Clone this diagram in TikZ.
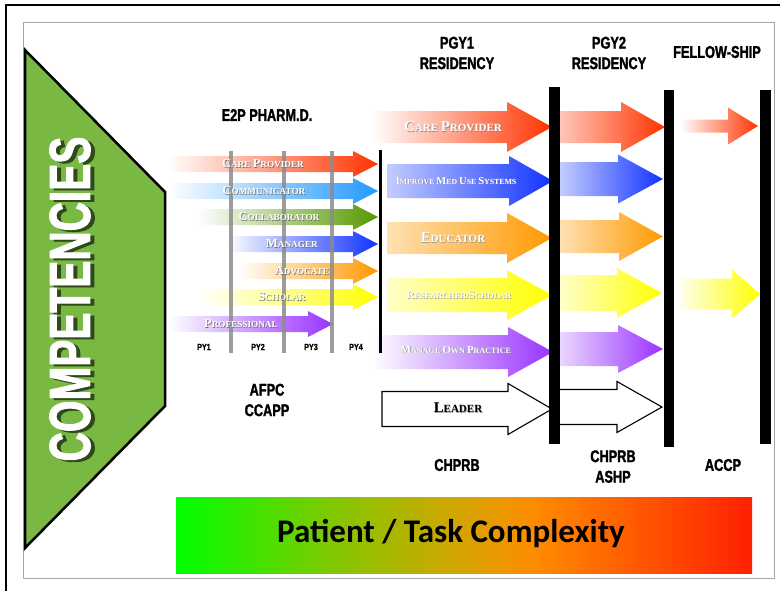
\documentclass[tikz,border=0pt]{standalone}
\usepackage{fontspec}
\usepackage{graphicx}
\newfontfamily\hdrfont[FakeStretch=0.75,FakeBold=1.6]{Liberation Sans Bold}
\newfontfamily\pyfont[FakeStretch=0.8,FakeBold=0.8]{Liberation Sans Bold}
\newfontfamily\compfont[FakeStretch=0.7,FakeBold=1.5]{Liberation Sans Bold}
\newfontfamily\labfont{Liberation Serif Bold}
\newfontfamily\barfont{Carlito Bold}
\definecolor{cgreen}{HTML}{78B843}
\definecolor{cshadow}{HTML}{2F4A1A}
\definecolor{cred}{HTML}{FF3300}
\definecolor{ccomm}{HTML}{2299FF}
\definecolor{ccoll}{HTML}{559900}
\definecolor{cblue}{HTML}{1133FF}
\definecolor{corange}{HTML}{FF9900}
\definecolor{cyellow}{HTML}{FFFF00}
\definecolor{cpurple}{HTML}{9933FF}
\definecolor{g1}{HTML}{00FF00}
\definecolor{g2}{HTML}{80C800}
\definecolor{g3}{HTML}{C8AA00}
\definecolor{g4}{HTML}{FF8C00}
\definecolor{g5}{HTML}{FF2000}
\newcommand\B[1]{\scalebox{1.35}{#1}}
\newcommand\sh[2][black!55]{\makebox[0pt][l]{\kern0.7pt\raisebox{-0.7pt}{\textcolor{#1}{#2}}}#2}
% #1 tint, #2 colour, #3 x left, #4 x head base, #5 x tip, #6 y centre, #7 shaft half, #8 head half
\newcommand\arr[8][0]{%
  \shade[left color=#2!#1, right color=#2] (#3,#6-#7) -- (#4,#6-#7) -- (#4,#6-#8) -- (#5,#6) -- (#4,#6+#8) -- (#4,#6+#7) -- (#3,#6+#7) -- cycle;}
\newcommand\arrline[7]{%
  \draw[fill=white, line width=1.1pt, line join=miter] (#1,#4-#5) -- (#2,#4-#5) -- (#2,#4-#6) -- (#3,#4) -- (#2,#4+#6) -- (#2,#4+#5) -- (#1,#4+#5) -- #7;}
\begin{document}
\begin{tikzpicture}[x=1pt,y=-1pt,
  hdr/.style={inner sep=0pt, align=center, font=\hdrfont\fontsize{17}{20.5}\selectfont},
  pylab/.style={inner sep=0pt, font=\pyfont\fontsize{9}{9}\selectfont},
  lab/.style={inner sep=0pt, text=white, font=\labfont\fontsize{#1}{#1}\selectfont},
  lab/.default=9.2,
  bar/.style={fill=black, draw=none},
  gline/.style={line width=3.5pt, draw=black!45, opacity=0.85}]
\useasboundingbox (0,0) rectangle (780,590);
\fill[white] (0,0) rectangle (780,590);
% frames
\draw[line width=2pt] (6,592) -- (6,5) -- (782,5);
\draw[black!35, line width=1pt] (23,22) rectangle (774,578);
% green pentagon
\draw[fill=cgreen, line width=2.5pt, line join=miter] (25,50) -- (165,192) -- (165,406) -- (25,548) -- cycle;
\node[rotate=90, text=cshadow, inner sep=0pt, font=\compfont\fontsize{58}{58}\selectfont] (compsh) at (74,301) {COMPETENCIES};
\node[rotate=90, text=white, inner sep=0pt, font=\compfont\fontsize{58}{58}\selectfont] (comp) at (70,299) {COMPETENCIES};
% gradient bar
\shade[left color=g1, right color=g2] (176,497) rectangle (331,573);
\shade[left color=g2, right color=g3] (330,497) rectangle (441,573);
\shade[left color=g3, right color=g4] (440,497) rectangle (534,573);
\shade[left color=g4, right color=g5] (533,497) rectangle (752,573);
\node[inner sep=0pt, font=\barfont\fontsize{33}{33}\selectfont] (complex) at (451,533) {Patient / Task Complexity};
% headers
\node[hdr] (e2p) at (267,115) {E2P PHARM.D.};
\node[hdr] (pgy1) at (457,53) {PGY1\\RESIDENCY};
\node[hdr] (pgy2) at (609,53) {PGY2\\RESIDENCY};
\node[hdr] (fellow) at (717,52) {FELLOW-SHIP};
\node[hdr] (afpc) at (267,400) {AFPC\\CCAPP};
\node[hdr] (chprb1) at (457,465) {CHPRB};
\node[hdr] (chprb2) at (613,466.5) {CHPRB\\ASHP};
\node[hdr] (accp) at (723,465) {ACCP};
% Pharm.D. arrows
\arr{cred}{168}{353}{378}{164}{8}{13}
\arr{ccomm}{168}{353}{378}{191}{8}{13}
\arr{ccoll}{198}{353}{378}{217}{8}{13}
\arr{cblue}{226}{353}{378}{244}{8}{13}
\arr{corange}{238}{353}{378}{271}{8}{13}
\arr{cyellow}{200}{353}{378}{297}{8}{13}
\arr{cpurple}{168}{308}{333}{324}{8}{13}
% year lines
\draw[gline] (231,151) -- (231,353);
\draw[gline] (284,151) -- (284,353);
\draw[gline] (332,151) -- (332,353);
\node[pylab] (py1) at (204,347) {PY1};
\node[pylab] (py2) at (258,347) {PY2};
\node[pylab] (py3) at (311,347) {PY3};
\node[pylab] (py4) at (356,347) {PY4};
% Pharm.D. labels
\node[lab] (l1) at (263,164) {\sh{\B{C}ARE \B{P}ROVIDER}};
\node[lab] (l2) at (264,191) {\sh{\B{C}OMMUNICATOR}};
\node[lab] (l3) at (279,217) {\sh{\B{C}OLLABORATOR}};
\node[lab] (l4) at (292,244) {\sh{\B{M}ANAGER}};
\node[lab] (l5) at (302,271) {\sh{\B{A}DVOCATE}};
\node[lab] (l6) at (282,297) {\sh{\B{S}CHOLAR}};
\node[lab] (l7) at (241,324) {\sh{\B{P}ROFESSIONAL}};
% PGY1 arrows
\arr{cred}{372}{507}{552}{127}{16}{25}
\arr[25]{cblue}{387}{509}{553}{181}{17}{25}
\arr[30]{corange}{387}{507}{552}{238}{16}{25}
\arr[22]{cyellow}{387}{507}{552}{295}{17}{25}
\arr{cpurple}{372}{508}{553}{352}{17}{25}
\arrline{382}{508}{552}{409}{17.5}{25.5}{cycle}
% PGY2 arrows
\arr[28]{cred}{560}{621}{665}{127}{16}{25}
\arr[25]{cblue}{560}{618}{663}{179}{17}{24.5}
\arr[30]{corange}{560}{619}{663}{236.5}{16.5}{24.5}
\arr[20]{cyellow}{560}{617}{662}{293}{18}{25}
\arr[20]{cpurple}{560}{618}{663}{349}{17}{24}
\arrline{552}{617}{662}{407}{17.5}{25.5}{(552,407-17.5)}
% Fellowship arrows
\arr{cred}{680}{728}{758}{126}{6.5}{18.5}
\arr[8]{cyellow}{680}{732}{760}{294}{15.5}{24.5}
% PGY1 labels
\node[lab=11] (m1) at (453,127) {\sh[black!45]{\B{C}ARE \B{P}ROVIDER}};
\node[lab=7.8] (m2) at (456,181) {\sh[black!45]{\B{I}MPROVE \B{M}ED \B{U}SE \B{S}YSTEMS}};
\node[lab=11] (m3) at (453,238) {\sh[black!40]{\B{E}DUCATOR}};
\node[lab=8.3] (m4) at (459,295) {\sh[black!35]{\B{R}ESEARCHER/\B{S}CHOLAR}};
\node[lab=8.1] (m5) at (456,350) {\sh[black!45]{\B{M}ANAGE \B{O}WN \B{P}RACTICE}};
\node[lab=11, text=black] (m6) at (458,408) {\sh[black!40]{\B{L}EADER}};
% bars
\fill[bar] (379,150) rectangle (382,353);
\fill[bar] (549,87) rectangle (560,444);
\fill[bar] (664,90) rectangle (674,447);
\fill[bar] (760,90) rectangle (771,444);
\end{tikzpicture}
\end{document}
